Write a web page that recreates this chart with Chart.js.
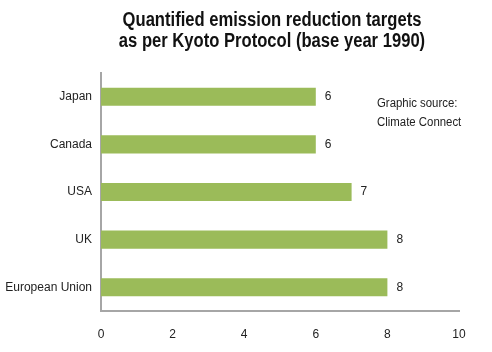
<!DOCTYPE html>
<html>
<head>
<meta charset="utf-8">
<script src="https://cdn.jsdelivr.net/npm/chart.js@4/dist/chart.umd.min.js"></script>
<style>
  html, body { margin: 0; padding: 0; background: #fff; }
  #wrap { width: 492px; height: 352px; }
</style>
</head>
<body>
<div id="wrap"><canvas id="kyotoChart" width="492" height="352"></canvas></div>
<script>
// 数据
const countries = ['Japan', 'Canada', 'USA', 'UK', 'European Union'];
const targets = [6, 6, 7, 8, 8];
const xTicks = [0, 2, 4, 6, 8, 10];
const titleLines = ['Quantified emission reduction targets', 'as per Kyoto Protocol (base year 1990)'];
const sourceNote = ['Graphic source:', 'Climate Connect'];

const FONT = "'Liberation Sans', Arial, sans-serif";

// 标题（原图是窄体字，这里横向压缩一下）
const narrowTitle = {
    id: 'narrowTitle',
    afterDraw(chart) {
        const ctx = chart.ctx;
        ctx.save();
        ctx.font = 'bold 20px ' + FONT;
        ctx.fillStyle = '#111';
        ctx.textAlign = 'center';
        ctx.textBaseline = 'middle';
        titleLines.forEach((line, i) => {
            ctx.save();
            ctx.translate(272, 20 + i * 21);
            ctx.scale(0.83, 1);
            ctx.fillText(line, 0, 0);
            ctx.restore();
        });
        ctx.restore();
    }
};

// 柱子后面的数值
const valueLabels = {
    id: 'valueLabels',
    afterDatasetsDraw(chart) {
        const ctx = chart.ctx;
        const meta = chart.getDatasetMeta(0);
        ctx.save();
        ctx.font = '12px ' + FONT;
        ctx.fillStyle = '#222';
        ctx.textAlign = 'left';
        ctx.textBaseline = 'middle';
        meta.data.forEach((bar, i) => {
            ctx.fillText(String(targets[i]), bar.x + 9, bar.y);
        });
        ctx.restore();
    }
};

// 右上角的来源说明
const sourceText = {
    id: 'sourceText',
    afterDraw(chart) {
        const ctx = chart.ctx;
        const area = chart.chartArea;
        ctx.save();
        ctx.font = '12px ' + FONT;
        ctx.fillStyle = '#222';
        ctx.textAlign = 'left';
        ctx.textBaseline = 'middle';
        sourceNote.forEach((line, i) => {
            ctx.save();
            ctx.translate(area.left + 276, area.top + 31 + i * 19);
            ctx.scale(0.95, 1);
            ctx.fillText(line, 0, 0);
            ctx.restore();
        });
        ctx.restore();
    }
};

const ctx = document.getElementById('kyotoChart').getContext('2d');
new Chart(ctx, {
    type: 'bar',
    data: {
        labels: countries,
        datasets: [{
            data: targets,
            backgroundColor: '#9bbb59',
            borderWidth: 0,
            categoryPercentage: 1,
            barPercentage: 0.38
        }]
    },
    options: {
        indexAxis: 'y',
        responsive: false,
        animation: false,
        layout: { padding: { left: 0, right: 33, top: 73, bottom: 0 } },
        plugins: {
            legend: { display: false },
            tooltip: { enabled: false },
            title: { display: false }
        },
        scales: {
            x: {
                min: 0,
                max: 10,
                afterBuildTicks(scale) {
                    scale.ticks = xTicks.map(v => ({ value: v }));
                },
                afterFit(scale) { scale.height = 41; },
                grid: { display: false, drawTicks: false },
                border: { display: true, color: '#a6a6a6', width: 2 },
                ticks: {
                    color: '#222',
                    padding: 16,
                    font: { family: FONT, size: 12 }
                }
            },
            y: {
                afterFit(scale) { scale.width = 101; },
                grid: { display: false, drawTicks: false },
                border: { display: true, color: '#a6a6a6', width: 2 },
                ticks: {
                    color: '#222',
                    padding: 9,
                    font: { family: FONT, size: 12 }
                }
            }
        }
    },
    plugins: [narrowTitle, valueLabels, sourceText]
});
</script>
</body>
</html>
